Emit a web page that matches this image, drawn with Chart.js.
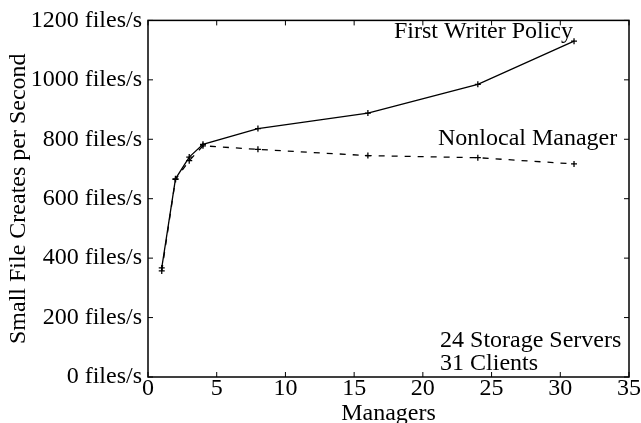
<!DOCTYPE html>
<html>
<head>
<meta charset="utf-8">
<script src="https://cdn.jsdelivr.net/npm/chart.js@4"></script>
<style>
  html, body { margin: 0; padding: 0; background: #fff; }
  #wrap { width: 641px; height: 423px; }
</style>
</head>
<body>
<div id="wrap"><canvas id="chart" width="641" height="423"></canvas></div>
<script>
// data
const managers = [1, 2, 3, 4, 8, 16, 24, 31];
const firstWriter = [367, 667, 740, 783, 836, 888, 985, 1130];
const nonlocal = [357, 665, 728, 778, 766, 745, 738, 717];
const xTicks = [0, 5, 10, 15, 20, 25, 30, 35];
const yTicks = [0, 200, 400, 600, 800, 1000, 1200];

// labels placed in data coords (left aligned, baseline): [text, x, y]
const notes = [
    ['First Writer Policy', 17.9, 1142],
    ['Nonlocal Manager', 21.1, 780],
    ['24 Storage Servers', 21.25, 102],
    ['31 Clients', 21.25, 24]
];

const serif = 'Liberation Serif';

const toPts = ys => managers.map((x, i) => ({x: x, y: ys[i]}));

// frame + inward ticks + text notes
const framePlugin = {
    id: 'frame',
    afterDatasetsDraw(chart) {
        const {ctx, chartArea: a, scales: {x, y}} = chart;
        ctx.save();
        ctx.strokeStyle = '#000';
        ctx.lineWidth = 1.5;
        ctx.strokeRect(a.left, a.top, a.right - a.left, a.bottom - a.top);
        ctx.lineWidth = 1;
        ctx.beginPath();
        xTicks.forEach(v => {
            const px = x.getPixelForValue(v);
            ctx.moveTo(px, a.bottom); ctx.lineTo(px, a.bottom - 5);
            ctx.moveTo(px, a.top); ctx.lineTo(px, a.top + 5);
        });
        yTicks.forEach(v => {
            const py = y.getPixelForValue(v);
            ctx.moveTo(a.left, py); ctx.lineTo(a.left + 5, py);
            ctx.moveTo(a.right, py); ctx.lineTo(a.right - 5, py);
        });
        ctx.stroke();
        ctx.fillStyle = '#000';
        ctx.font = '24px "' + serif + '"';
        ctx.textAlign = 'left';
        ctx.textBaseline = 'alphabetic';
        notes.forEach(([t, vx, vy]) => {
            ctx.fillText(t, x.getPixelForValue(vx), y.getPixelForValue(vy));
        });
        ctx.restore();
    }
};

new Chart(document.getElementById('chart'), {
    type: 'line',
    data: {
        datasets: [
            {
                label: 'First Writer Policy',
                data: toPts(firstWriter),
                borderColor: '#000',
                borderWidth: 1.3,
                pointStyle: 'cross',
                pointRadius: 3,
                pointBorderColor: '#000',
                pointBorderWidth: 1.3,
                tension: 0
            },
            {
                label: 'Nonlocal Manager',
                data: toPts(nonlocal),
                borderColor: '#000',
                borderWidth: 1.3,
                borderDash: [6, 7],
                pointStyle: 'cross',
                pointRadius: 3,
                pointBorderColor: '#000',
                pointBorderWidth: 1.3,
                tension: 0
            }
        ]
    },
    options: {
        responsive: false,
        animation: false,
        devicePixelRatio: 1,
        layout: { padding: { top: 17, right: 12, left: 4, bottom: 0 } },
        plugins: {
            legend: { display: false },
            tooltip: { enabled: false }
        },
        scales: {
            x: {
                type: 'linear',
                min: 0,
                max: 35,
                grid: { display: false, drawTicks: false },
                border: { display: false },
                afterBuildTicks: s => { s.ticks = xTicks.map(v => ({value: v})); },
                afterFit: s => { s.height = 46; },
                ticks: {
                    color: '#000',
                    padding: -3,
                    maxRotation: 0,
                    font: { family: serif, size: 24 }
                },
                title: {
                    display: true,
                    text: 'Managers',
                    color: '#000',
                    padding: { top: 0, bottom: -5 },
                    font: { family: serif, size: 24 }
                }
            },
            y: {
                min: 0,
                max: 1200,
                grid: { display: false, drawTicks: false },
                border: { display: false },
                afterBuildTicks: s => { s.ticks = yTicks.map(v => ({value: v})); },
                afterFit: s => { s.width = 144; },
                ticks: {
                    color: '#000',
                    padding: 6,
                    font: { family: serif, size: 24 },
                    callback: v => v + ' files/s'
                },
                title: {
                    display: true,
                    text: 'Small File Creates per Second',
                    color: '#000',
                    padding: { top: 0, bottom: 0 },
                    font: { family: serif, size: 24 }
                }
            }
        }
    },
    plugins: [framePlugin]
});
</script>
</body>
</html>
